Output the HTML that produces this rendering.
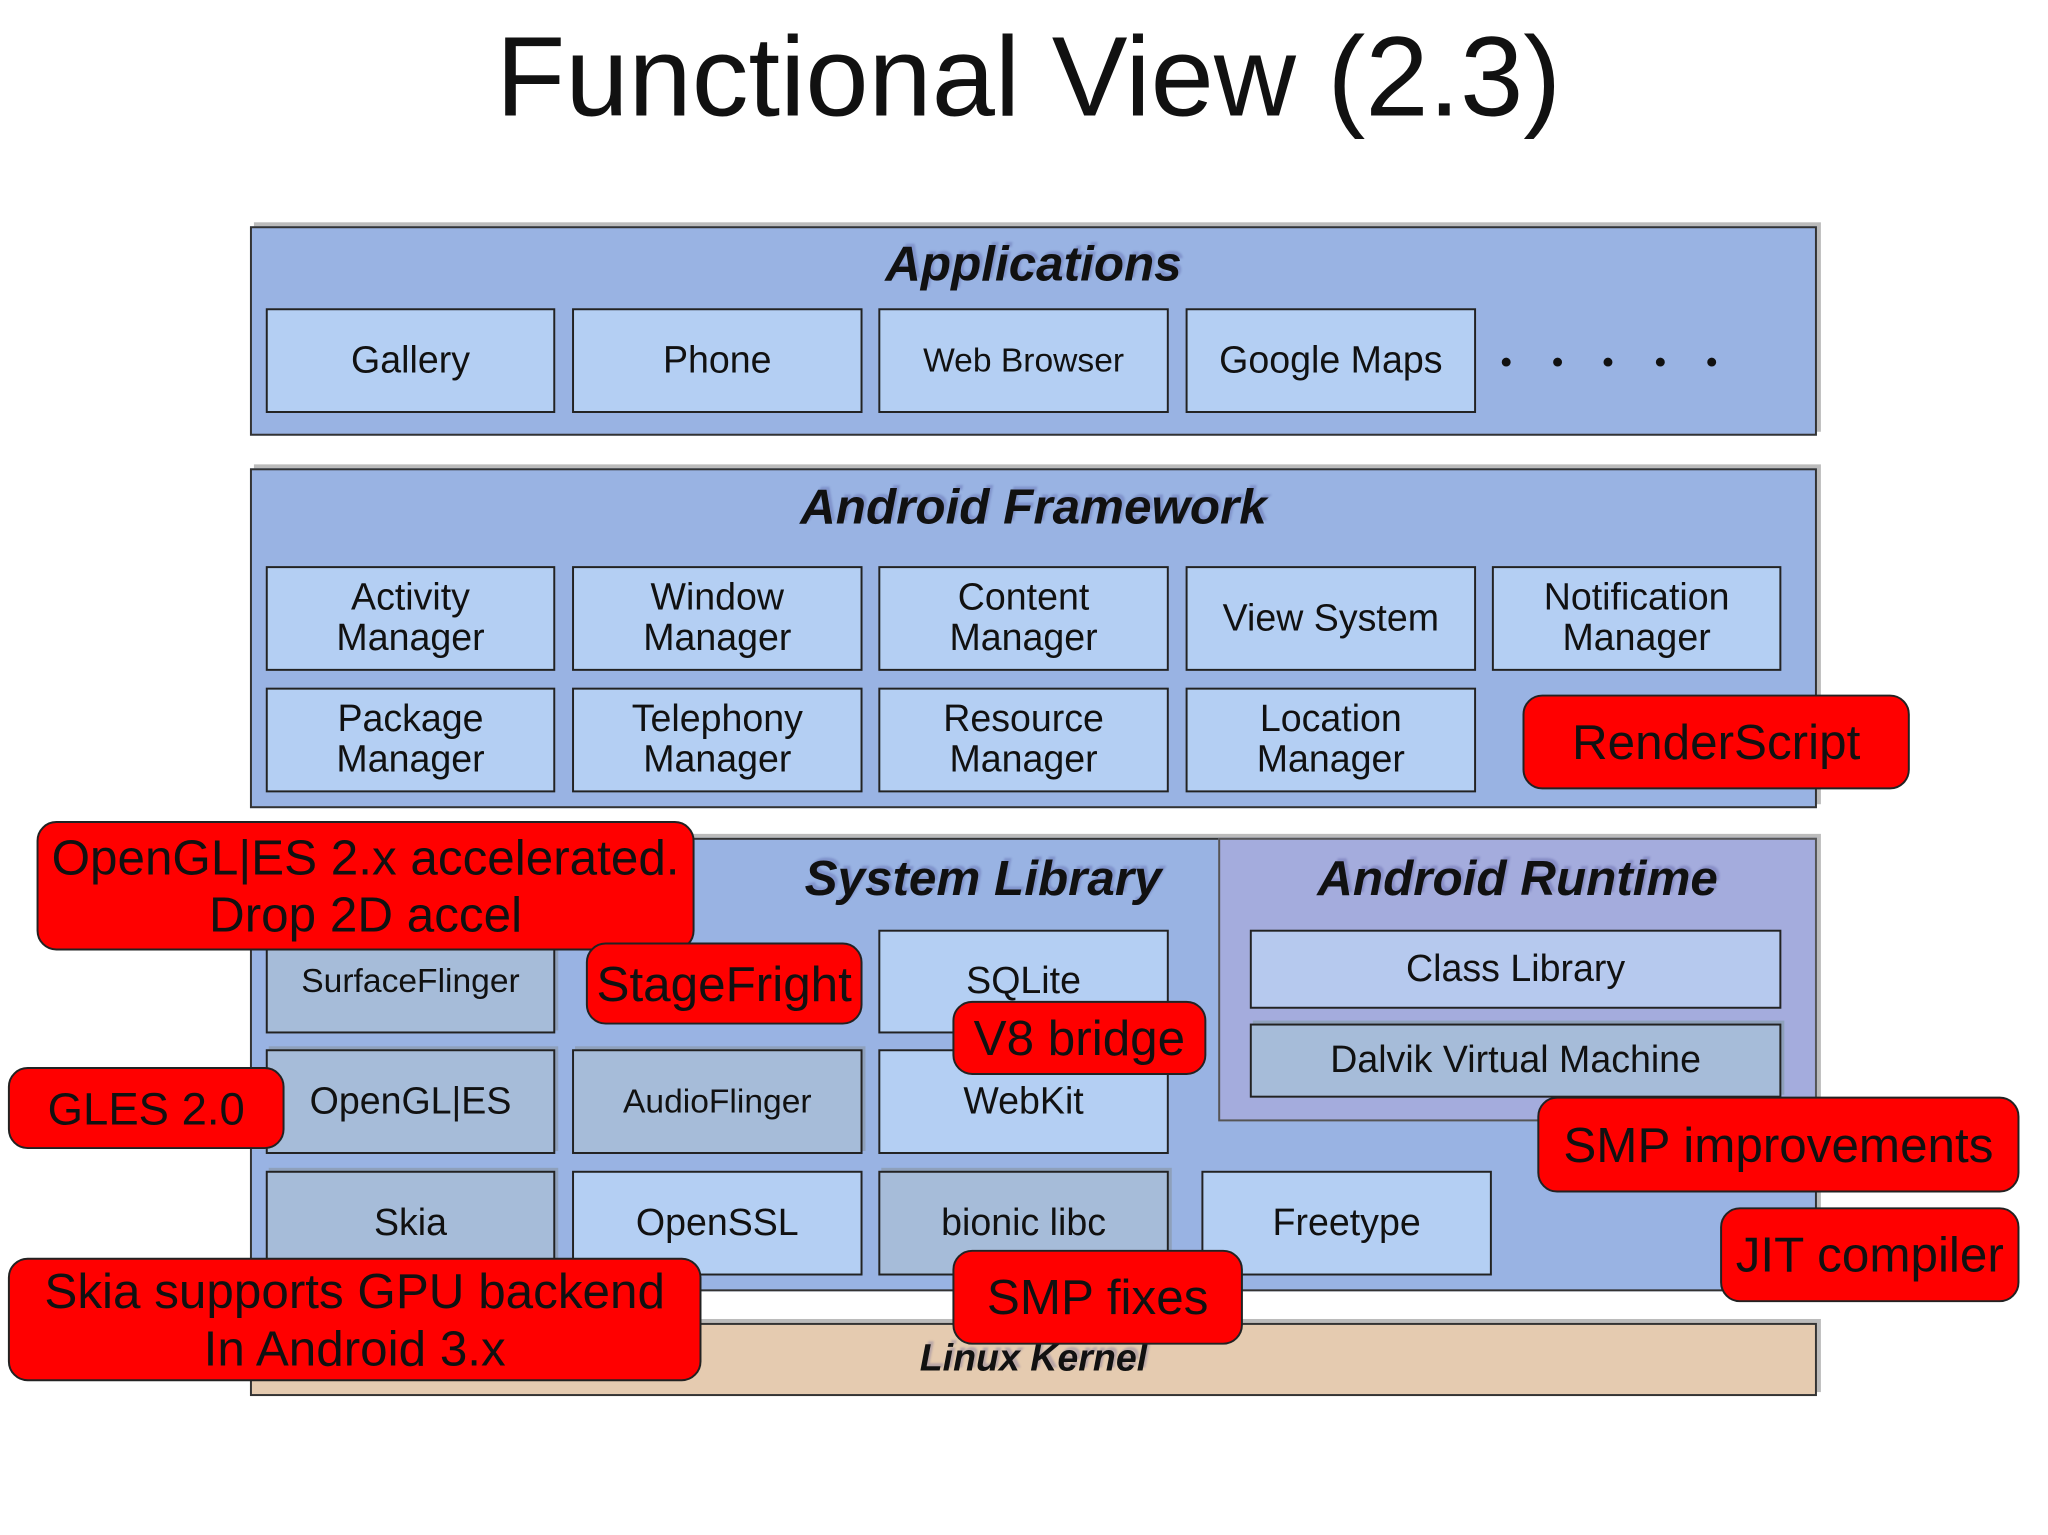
<!DOCTYPE html>
<html><head><meta charset="utf-8"><style>
body{margin:0;width:2048px;height:1535px;background:#fff;position:relative;overflow:hidden;font-family:"Liberation Sans",sans-serif;}
div{position:absolute;box-sizing:border-box;}
#w{left:0;top:0;width:2048px;height:1535px;transform:scale(0.988);transform-origin:0 0;}
.layer{background:#99b3e3;border:2px solid #333;box-shadow:4px -4px 0 #bbb;}
.h{font-weight:bold;font-style:italic;color:#111;text-align:center;white-space:nowrap;text-shadow:3px -3px 2px rgba(60,60,140,0.25);}
.b{background:#b4cff3;border:2px solid #222;display:flex;align-items:center;justify-content:center;text-align:center;font-size:38px;line-height:41px;color:#111;}
.d{background:#a6bcd9;box-shadow:3px -3px 0 #8ea0bb;}
.r{background:#ff0000;border:2px solid #222;border-radius:20px;display:flex;align-items:center;justify-content:center;text-align:center;color:#111;font-size:50px;line-height:58px;white-space:nowrap;}
.dot{width:9px;height:9px;border-radius:50%;background:#111;top:362px;}
</style></head><body><div id="w">
<div style="left:17px;width:2048px;top:12px;text-align:center;font-size:115px;color:#111;">Functional View (2.3)</div>

<div class="layer" style="left:253px;top:229px;width:1586px;height:212px;"></div>
<div class="h" style="left:253px;width:1586px;top:238px;font-size:50px;">Applications</div>
<div class="b" style="left:269px;top:312px;width:293px;height:106px;">Gallery</div>
<div class="b" style="left:579px;top:312px;width:294px;height:106px;">Phone</div>
<div class="b" style="left:889px;top:312px;width:294px;height:106px;font-size:34px;">Web Browser</div>
<div class="b" style="left:1200px;top:312px;width:294px;height:106px;">Google Maps</div>
<div class="dot" style="left:1520px"></div><div class="dot" style="left:1572px"></div><div class="dot" style="left:1623px"></div><div class="dot" style="left:1676px"></div><div class="dot" style="left:1728px"></div>

<div class="layer" style="left:253px;top:474px;width:1586px;height:344px;"></div>
<div class="h" style="left:253px;width:1586px;top:484px;font-size:50px;">Android Framework</div>
<div class="b" style="left:269px;top:573px;width:293px;height:106px;">Activity<br>Manager</div>
<div class="b" style="left:579px;top:573px;width:294px;height:106px;">Window<br>Manager</div>
<div class="b" style="left:889px;top:573px;width:294px;height:106px;">Content<br>Manager</div>
<div class="b" style="left:1200px;top:573px;width:294px;height:106px;">View System</div>
<div class="b" style="left:1510px;top:573px;width:293px;height:106px;">Notification<br>Manager</div>
<div class="b" style="left:269px;top:696px;width:293px;height:106px;">Package<br>Manager</div>
<div class="b" style="left:579px;top:696px;width:294px;height:106px;">Telephony<br>Manager</div>
<div class="b" style="left:889px;top:696px;width:294px;height:106px;">Resource<br>Manager</div>
<div class="b" style="left:1200px;top:696px;width:294px;height:106px;">Location<br>Manager</div>

<div class="layer" style="left:253px;top:848px;width:1586px;height:459px;"></div>
<div class="h" style="left:700px;width:590px;top:860px;font-size:50px;">System Library</div>
<div style="left:1233px;top:848px;width:606px;height:287px;background:#a4acdd;border:2px solid #555;"></div>
<div class="h" style="left:1233px;width:606px;top:860px;font-size:50px;">Android Runtime</div>
<div class="b" style="left:1265px;top:941px;width:538px;height:80px;background:#b6c9ee;">Class Library</div>
<div class="b d" style="left:1265px;top:1036px;width:538px;height:75px;">Dalvik Virtual Machine</div>

<div class="b d" style="left:269px;top:941px;width:293px;height:105px;font-size:34px;">SurfaceFlinger</div>
<div class="b" style="left:889px;top:941px;width:294px;height:105px;">SQLite</div>
<div class="b d" style="left:269px;top:1062px;width:293px;height:106px;">OpenGL|ES</div>
<div class="b d" style="left:579px;top:1062px;width:294px;height:106px;font-size:34px;">AudioFlinger</div>
<div class="b" style="left:889px;top:1062px;width:294px;height:106px;">WebKit</div>
<div class="b d" style="left:269px;top:1185px;width:293px;height:106px;">Skia</div>
<div class="b" style="left:579px;top:1185px;width:294px;height:106px;">OpenSSL</div>
<div class="b d" style="left:889px;top:1185px;width:294px;height:106px;">bionic libc</div>
<div class="b" style="left:1216px;top:1185px;width:294px;height:106px;">Freetype</div>

<div style="left:253px;top:1339px;width:1586px;height:74px;background:#e5cbb0;border:2px solid #333;box-shadow:4px -4px 0 #bbb;"></div>
<div class="h" style="left:253px;width:1586px;top:1354px;font-size:38px;">Linux Kernel</div>

<div class="r" style="left:1541px;top:703px;width:392px;height:96px;">RenderScript</div>
<div class="r" style="left:37px;top:831px;width:666px;height:131px;">OpenGL|ES 2.x accelerated.<br>Drop 2D accel</div>
<div class="r" style="left:593px;top:954px;width:280px;height:83px;">StageFright</div>
<div class="r" style="left:964px;top:1013px;width:257px;height:75px;">V8 bridge</div>
<div class="r" style="left:8px;top:1080px;width:280px;height:83px;font-size:46px;">GLES 2.0</div>
<div class="r" style="left:1556px;top:1110px;width:488px;height:97px;">SMP improvements</div>
<div class="r" style="left:1741px;top:1222px;width:303px;height:96px;">JIT compiler</div>
<div class="r" style="left:8px;top:1273px;width:702px;height:125px;">Skia supports GPU backend<br>In Android 3.x</div>
<div class="r" style="left:964px;top:1265px;width:294px;height:96px;">SMP fixes</div>
</div></body></html>
